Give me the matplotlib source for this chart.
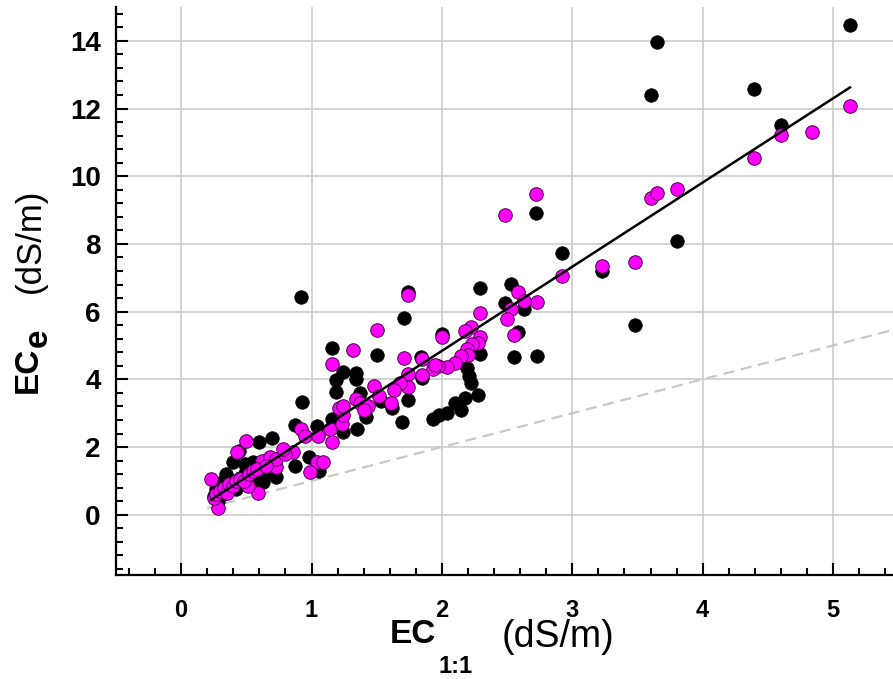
import numpy as np
import matplotlib
matplotlib.use("Agg")
import matplotlib.pyplot as plt
from matplotlib.ticker import MultipleLocator

plt.rcParams['font.family'] = ['Liberation Sans', 'DejaVu Sans']

# black points (EC1:1, ECe)
black_x = [5.13, 3.65, 3.60, 4.39, 4.60, 2.92, 3.23, 3.80, 3.48, 2.72, 2.73,
           2.29, 2.53, 2.48, 2.63, 2.58, 2.00, 2.29, 2.55, 2.19, 2.21, 2.22,
           2.28, 2.18, 2.10, 2.15, 2.04, 1.98, 1.93, 1.85,
           1.74, 1.71, 1.50, 1.84, 1.74, 1.62, 1.69, 1.42,
           1.16, 1.24, 1.34, 1.19, 1.34, 1.19, 1.37, 1.53, 0.93, 0.87, 1.04,
           1.16, 1.24, 1.35, 0.98, 0.87, 1.06, 0.92, 0.60, 0.70, 0.44, 0.40,
           0.49, 0.55, 0.73, 0.34, 0.37, 0.45, 0.58, 0.63,
           0.25, 0.27, 0.30, 0.32, 0.35, 0.28, 0.42, 0.50, 0.55, 0.65, 0.62]
black_y = [14.47, 13.96, 12.39, 12.58, 11.50, 7.73, 7.19, 8.10, 5.61, 8.90, 4.69,
           6.70, 6.81, 6.27, 6.08, 5.39, 5.35, 4.74, 4.66, 4.34, 4.10, 3.90,
           3.53, 3.44, 3.31, 3.09, 3.02, 2.95, 2.82, 4.05,
           6.58, 5.81, 4.71, 4.66, 3.39, 3.14, 2.73, 2.90,
           4.93, 4.21, 4.20, 3.98, 4.00, 3.63, 3.61, 3.36, 3.33, 2.65, 2.63,
           2.82, 2.43, 2.53, 1.70, 1.45, 1.30, 6.42, 2.14, 2.26, 1.89, 1.55,
           1.50, 1.55, 1.11, 1.21, 1.00, 1.10, 0.96, 0.96,
           0.55, 0.75, 0.95, 0.60, 0.85, 0.40, 0.75, 1.30, 1.20, 1.30, 1.10]

# magenta points
mag_x = [5.13, 4.60, 4.84, 4.39, 3.60, 3.65, 3.80, 2.92, 3.23, 3.48, 2.72, 2.73, 2.48,
         2.58, 2.63, 2.53, 2.50, 2.55, 2.29, 2.22, 2.18, 2.00, 2.29, 2.28, 2.23,
         2.19, 2.20, 2.15, 2.10, 2.04, 1.97, 1.93, 1.85, 1.85,
         1.74, 1.50, 1.71, 1.74, 1.74, 1.68, 1.63, 1.48, 1.52, 1.61, 1.42,
         1.32, 1.16, 1.34, 1.37, 1.43, 1.40, 1.95,
         0.92, 0.95, 1.05, 1.14, 1.23, 1.24, 1.21, 1.24, 1.16, 1.04, 1.09, 0.99,
         0.86, 0.50, 0.43, 0.23, 0.28, 0.59, 0.73, 0.51, 0.62, 0.68, 0.73,
         0.25, 0.27, 0.30, 0.33, 0.35, 0.37, 0.40, 0.42, 0.45, 0.48, 0.52,
         0.55, 0.58, 0.65, 0.80, 0.78]
mag_y = [12.09, 11.22, 11.30, 10.55, 9.37, 9.51, 9.61, 7.04, 7.34, 7.47, 9.47, 6.28, 8.85,
         6.57, 6.30, 6.08, 5.78, 5.32, 5.96, 5.55, 5.42, 5.26, 5.26, 5.08, 5.03,
         4.90, 4.71, 4.69, 4.49, 4.37, 4.39, 4.31, 4.12, 4.59,
         6.50, 5.45, 4.62, 4.15, 3.78, 3.88, 3.69, 3.80, 3.51, 3.29, 3.14,
         4.88, 4.46, 3.41, 3.29, 3.21, 3.10, 4.41,
         2.53, 2.33, 2.33, 2.53, 2.68, 2.94, 3.14, 3.21, 2.16, 1.55, 1.55, 1.25,
         1.86, 2.19, 1.84, 1.06, 0.20, 0.65, 1.40, 0.86, 1.60, 1.70, 1.65,
         0.50, 0.62, 0.70, 0.78, 0.65, 0.90, 0.85, 1.00, 1.05, 1.00, 1.20,
         1.28, 1.35, 1.45, 1.80, 1.95]

# regression line and 1:1 line
fit_slope = 2.486
fit_intercept = -0.13
fit_range = [0.23, 5.13]
one_to_one_start = 0.2

xlim = (-0.5, 5.46)
ylim = (-1.78, 15.0)

W, H = 893, 679
fig = plt.figure(figsize=(W / 100, H / 100), dpi=100)
ax = fig.add_axes([116 / W, 1 - 575 / H, (W - 116) / W, (575 - 7) / H])

ax.scatter(black_x, black_y, s=95, c='black', edgecolors='black', linewidths=0.5, zorder=3)
ax.scatter(mag_x, mag_y, s=95, c='#ff00ff', edgecolors='#4a004a', linewidths=0.7, zorder=4)

fx = np.array(fit_range)
ax.plot(fx, fit_slope * fx + fit_intercept, color='black', lw=1.8, zorder=5)
ox = np.array([one_to_one_start, xlim[1]])
ax.plot(ox, ox, color='#c8c8c8', lw=1.6, ls=(0, (5, 3)), zorder=2)

ax.set_xlim(*xlim)
ax.set_ylim(*ylim)
ax.xaxis.set_major_locator(MultipleLocator(1))
ax.xaxis.set_minor_locator(MultipleLocator(0.2))
ax.yaxis.set_major_locator(MultipleLocator(2))
ax.yaxis.set_minor_locator(MultipleLocator(0.4))
ax.grid(True, which='major', color='#cccccc', lw=1.2, zorder=0)
ax.set_axisbelow(True)

for s in ['top', 'right']:
    ax.spines[s].set_visible(False)
for s in ['left', 'bottom']:
    ax.spines[s].set_linewidth(1.6)

ax.tick_params(which='both', direction='in', width=1.5, color='black')
ax.tick_params(which='major', length=8.5)
ax.tick_params(which='minor', length=5)
ax.tick_params(axis='y', which='major', labelsize=20, pad=11)
ax.tick_params(axis='x', which='major', labelsize=17, pad=17)
for lab in ax.get_xticklabels() + ax.get_yticklabels():
    lab.set_fontweight('bold')


def px(x, y):
    return x / W, 1 - y / H


# x label pieces
fig.text(*px(390, 643), 'EC', fontsize=24, fontweight='bold', ha='left', va='baseline')
fig.text(*px(438, 673), '1:1', fontsize=17, fontweight='bold', ha='left', va='baseline')
fig.text(*px(502, 647), '(dS/m)', fontsize=27, ha='left', va='baseline')

# y label pieces (rotated)
kw = dict(rotation=90, rotation_mode='anchor', ha='left', va='baseline')
fig.text(*px(37, 393), 'EC', fontsize=24, fontweight='bold', **kw)
fig.text(*px(47, 347), 'e', fontsize=24, fontweight='bold', **kw)
fig.text(*px(40, 293), '(dS/m)', fontsize=25, **kw)

fig.savefig('out.png', dpi=100)
